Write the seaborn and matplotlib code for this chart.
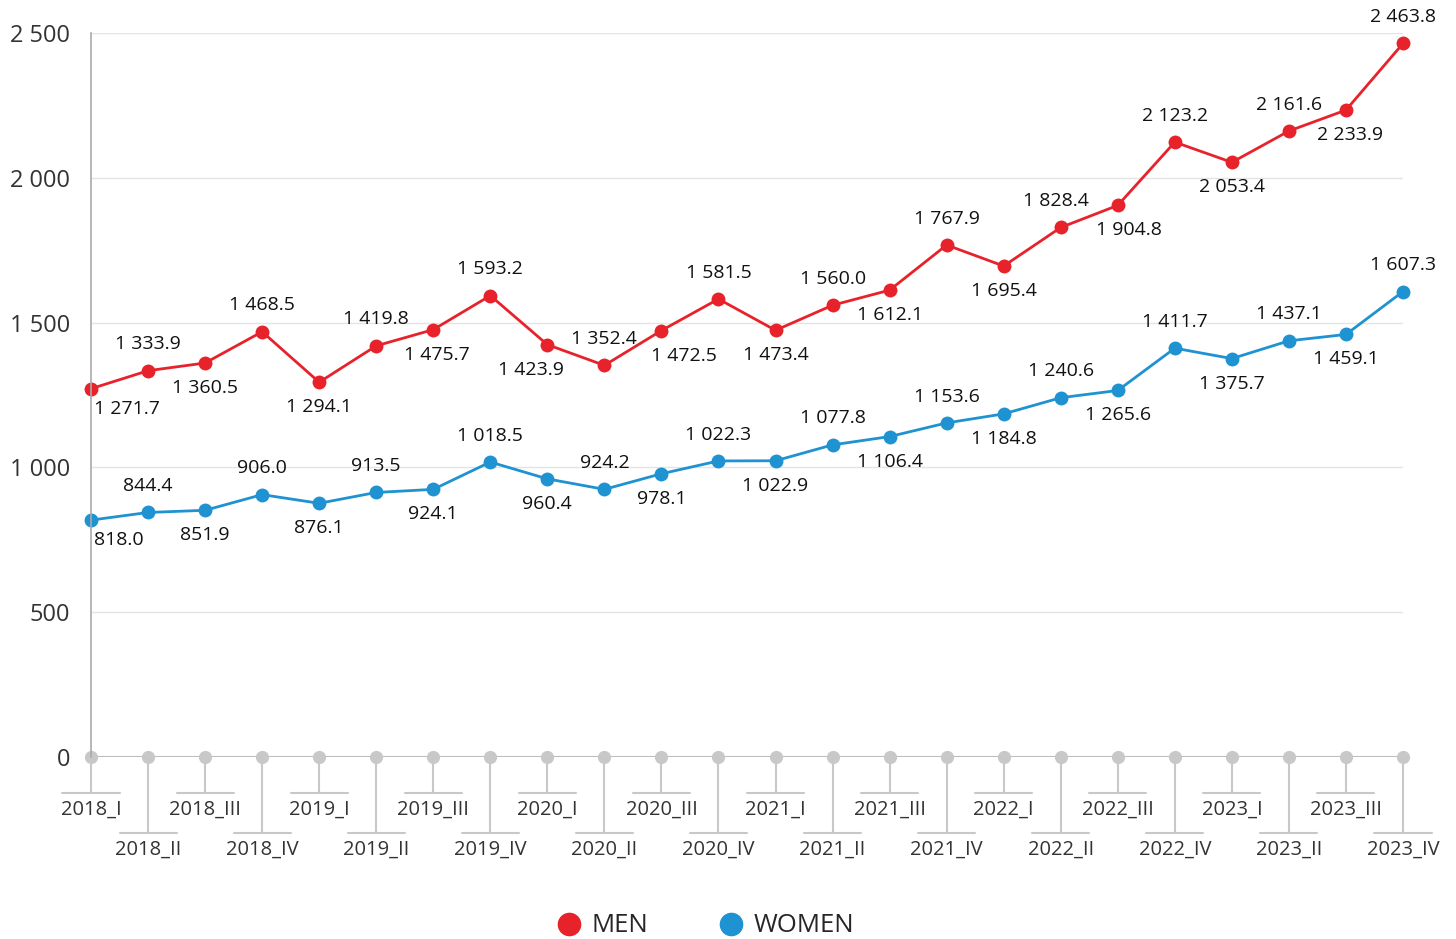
import numpy as np
import pandas as pd
import matplotlib
matplotlib.use("Agg")
import matplotlib.pyplot as plt
import matplotlib.transforms as mtransforms
from matplotlib.lines import Line2D
import seaborn as sns

quarters = ["2018_I", "2018_II", "2018_III", "2018_IV",
            "2019_I", "2019_II", "2019_III", "2019_IV",
            "2020_I", "2020_II", "2020_III", "2020_IV",
            "2021_I", "2021_II", "2021_III", "2021_IV",
            "2022_I", "2022_II", "2022_III", "2022_IV",
            "2023_I", "2023_II", "2023_III", "2023_IV"]

men = [1271.7, 1333.9, 1360.5, 1468.5, 1294.1, 1419.8, 1475.7, 1593.2,
       1423.9, 1352.4, 1472.5, 1581.5, 1473.4, 1560.0, 1612.1, 1767.9,
       1695.4, 1828.4, 1904.8, 2123.2, 2053.4, 2161.6, 2233.9, 2463.8]

women = [818.0, 844.4, 851.9, 906.0, 876.1, 913.5, 924.1, 1018.5,
         960.4, 924.2, 978.1, 1022.3, 1022.9, 1077.8, 1106.4, 1153.6,
         1184.8, 1240.6, 1265.6, 1411.7, 1375.7, 1437.1, 1459.1, 1607.3]

y_ticks = [0, 500, 1000, 1500, 2000, 2500]

RED = "#e8222a"
BLUE = "#1f92d1"
GREY = "#c8c8c8"

df = pd.DataFrame({
    "idx": list(range(len(quarters))) * 2,
    "value": men + women,
    "group": ["MEN"] * len(men) + ["WOMEN"] * len(women),
})

sns.set_style("white")
plt.rcParams["font.family"] = ["Open Sans", "DejaVu Sans"]

fig = plt.figure(figsize=(14.56, 9.39), dpi=100)
ax = fig.add_axes([91 / 1456, 1 - 757 / 939, (1403 - 91) / 1456, 724 / 939])

sns.lineplot(data=df, x="idx", y="value", hue="group",
             palette={"MEN": RED, "WOMEN": BLUE},
             marker="o", markersize=10, markeredgewidth=0,
             linewidth=2, legend=False, ax=ax)
for line in ax.lines:
    line.set_clip_on(False)

ax.set_xlim(0, len(quarters) - 1)
ax.set_ylim(0, 2500)
ax.set_xlabel("")
ax.set_ylabel("")

# y axis
ax.set_yticks(y_ticks)
ax.set_yticklabels([f"{v:,}".replace(",", " ") for v in y_ticks],
                   fontsize=17, color="#333")
ax.tick_params(axis="y", length=8, color="#aaaaaa", width=1, pad=7)
ax.grid(axis="y", color="#e4e4e4", linewidth=1)
ax.set_axisbelow(True)
for s in ["top", "right", "bottom"]:
    ax.spines[s].set_visible(False)
ax.spines["left"].set_color("#aaaaaa")
ax.spines["left"].set_linewidth(1.2)

# x axis: base line with dots and staggered labels
ax.set_xticks([])
xs = np.arange(len(quarters))
ax.axhline(0, color="#bdbdbd", linewidth=1.5, zorder=1)
ax.scatter(xs, [0] * len(xs), s=90, color=GREY, zorder=2, clip_on=False,
           linewidths=0)
trans = mtransforms.blended_transform_factory(ax.transData, ax.transAxes)
short_y, long_y = -36 / 724, -76 / 724
for i, q in enumerate(quarters):
    yb = short_y if i % 2 == 0 else long_y
    ax.plot([i, i], [0, yb], color=GREY, linewidth=1.5, transform=trans,
            clip_on=False, zorder=1)
    ax.plot([i - 0.5, i + 0.5], [yb, yb], color=GREY, linewidth=1.5,
            transform=trans, clip_on=False, zorder=1)
    ax.text(i, yb - 17 / 724, q, transform=trans, ha="center", va="center",
            fontsize=14.5, color="#333")

# data labels
def fmt(v):
    return f"{v:,.1f}".replace(",", " ")

# small pixel nudges so labels don't collide
nudge_men = {6: 4, 8: -16, 10: 23, 17: -5, 18: 11, 22: 4}
for name, series in (("men", men), ("women", women)):
    for i, v in enumerate(series):
        above = i % 2 == 1
        dy = 19 if above else -18
        dx = nudge_men.get(i, 0) if name == "men" else 0
        if i == 0:
            dy = -14.5
        ax.annotate(fmt(v), (i, v), xytext=(dx * 0.72 + (2 if i == 0 else 0), dy),
                    textcoords="offset points",
                    ha="left" if i == 0 else "center", va="center",
                    fontsize=14, color="#111", annotation_clip=False)

# legend
handles = [Line2D([], [], marker="o", linestyle="", markersize=17,
                  markerfacecolor=c, markeredgewidth=0, label=l)
           for c, l in ((RED, "MEN"), (BLUE, "WOMEN"))]
fig.legend(handles=handles, loc="center", bbox_to_anchor=(0.4835, 1 - 926 / 939),
           ncol=2, frameon=False, fontsize=18.5, handletextpad=0.3,
           columnspacing=2.6, handlelength=1.2)

fig.savefig("out.png", dpi=100)
